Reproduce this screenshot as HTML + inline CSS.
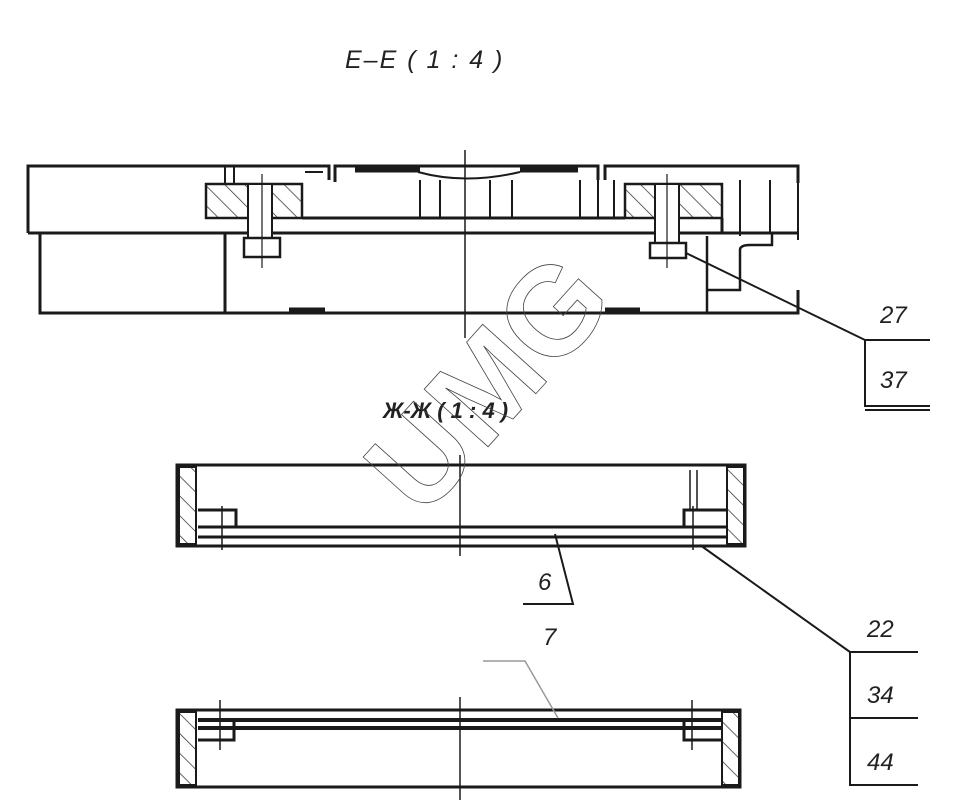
<!DOCTYPE html>
<html><head><meta charset="utf-8"><style>html,body{margin:0;padding:0;background:#fff}svg{display:block}</style></head>
<body>
<svg width="968" height="807" viewBox="0 0 968 807" xmlns="http://www.w3.org/2000/svg" font-family="Liberation Sans, sans-serif">
<defs>
<pattern id="h" patternUnits="userSpaceOnUse" width="14" height="14" patternTransform="rotate(-45)"><line x1="0" y1="0" x2="0" y2="14" stroke="#333" stroke-width="1.5"/></pattern>
</defs>
<g font-style="italic" fill="#222" font-size="24">
<text x="345" y="68" font-size="25" letter-spacing="2">E–E ( 1 : 4 )</text>
<text x="383" y="418" font-size="22" font-weight="bold">Ж-Ж ( 1 : 4 )</text>
<text x="880" y="323">27</text>
<text x="880" y="388">37</text>
<text x="538" y="590">6</text>
<text x="543" y="645">7</text>
<text x="867" y="637">22</text>
<text x="867" y="703">34</text>
<text x="867" y="770">44</text>
</g>
<g stroke="#1a1a1a" fill="none" stroke-width="3">
<!-- top view -->
<path d="M28 233 V166 H329 V180"/>
<path d="M335 182 V166 H598 V180"/>
<path d="M605 180 V166 H798 V183"/>
<path d="M28 233 H798"/>
<path d="M40 233 V313 H798 V290"/>
<line x1="225" y1="233" x2="225" y2="313"/>
<path d="M302 218 H625"/>
<rect x="206" y="184" width="96" height="34" fill="url(#h)" stroke-width="2.5"/>
<rect x="625" y="184" width="97" height="34" fill="url(#h)" stroke-width="2.5"/>
<rect x="248" y="184" width="24" height="54" fill="#fff" stroke-width="2"/>
<rect x="655" y="184" width="24" height="59" fill="#fff" stroke-width="2"/>
<rect x="244" y="238" width="36" height="19" stroke-width="2.5"/>
<rect x="650" y="243" width="36" height="15" stroke-width="2.5"/>
<path d="M707 236 V313 M707 290 H740 V250 Q740 245 750 245 H772 V233" stroke-width="2.5"/>
<path d="M722 218 V233"/>
<path d="M740 180 V236 M770 180 V233 M798 183 V240" stroke-width="2"/>
<path d="M355 170 H420 M520 170 H578" stroke-width="5"/>
<path d="M418 172 Q465 185 520 172" stroke-width="2"/>
<path d="M289 310 H325 M605 310 H640" stroke-width="5"/>
<path d="M305 172 H323 M420 180 V218 M440 180 V218 M490 180 V218 M512 180 V218 M580 180 V218 M598 180 V218" stroke-width="2"/>
<path d="M225 166 V184 M234 166 V184 M614 180 V218" stroke-width="2"/>
<path d="M262 174 V268 M667 174 V268" stroke-width="1.2"/>
<line x1="686" y1="253" x2="865" y2="340" stroke-width="2"/>
<path d="M865 340 H930 M865 340 V406 H930 M865 410 H930" stroke-width="2"/>
<!-- middle view -->
<rect x="177" y="465" width="568" height="81"/>
<rect x="179" y="467" width="17" height="77" fill="url(#h)" stroke-width="2"/>
<rect x="727" y="467" width="17" height="77" fill="url(#h)" stroke-width="2"/>
<path d="M198 527 H727 M198 537 H727" stroke-width="3"/>
<path d="M198 510 H236 V527 M727 510 H684 V527" stroke-width="3"/>
<path d="M222 506 V550 M693 506 V550 M690 470 V510 M697 470 V510" stroke-width="1.5"/>
<path d="M555 534 L573 604 H523" stroke-width="2"/>
<path d="M700 545 L850 652" stroke-width="2"/>
<path d="M850 652 H918 M850 652 V785 H918 M850 718 H918" stroke-width="2"/>
<!-- bottom view -->
<rect x="177" y="710" width="563" height="77"/>
<rect x="179" y="712" width="17" height="73" fill="url(#h)" stroke-width="2"/>
<rect x="722" y="712" width="17" height="73" fill="url(#h)" stroke-width="2"/>
<path d="M198 720 H722 M198 728 H722" stroke-width="4"/>
<path d="M198 740 H234 V720 M722 740 H684 V720" stroke-width="3"/>
<path d="M220 700 V750 M692 700 V750" stroke-width="1.5"/>
<path d="M483 661 H525 L558 718" stroke="#999" stroke-width="1.5"/>
<!-- centre lines -->
<g stroke-width="1.5">
<line x1="465" y1="150" x2="465" y2="338"/>
<line x1="460" y1="455" x2="460" y2="556"/>
<line x1="460" y1="697" x2="460" y2="800"/>
</g>
</g>
<text x="490" y="425" transform="rotate(-48 490 385)" text-anchor="middle" font-size="125" font-weight="bold" fill="none" stroke="#444" stroke-width="0.8">UMG</text>
</svg>
</body></html>
